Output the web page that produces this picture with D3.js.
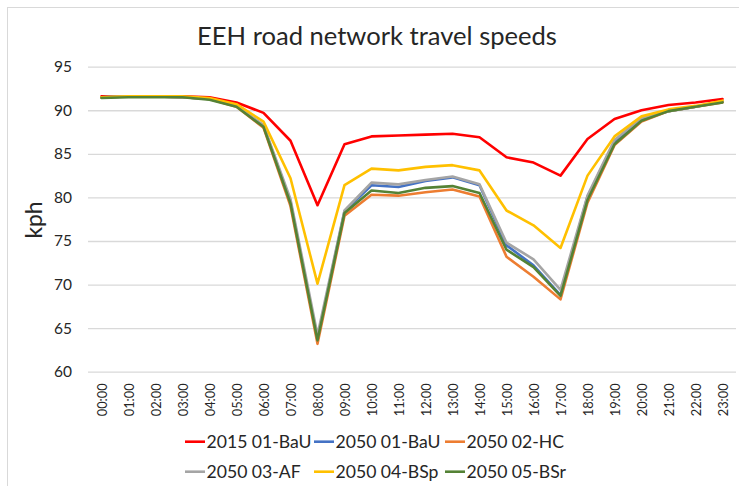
<!DOCTYPE html>
<html>
<head>
<meta charset="utf-8">
<script src="https://cdn.jsdelivr.net/npm/d3@7"></script>
<style>
  html, body { margin: 0; padding: 0; background: #fff; }
  svg { display: block; }
  text { font-family: Lato, "Open Sans", "Liberation Sans", sans-serif; fill: #262626; }
</style>
</head>
<body>
<svg id="chart" width="739" height="486"></svg>
<script>
// ---- data ----
const hours = ["00:00","01:00","02:00","03:00","04:00","05:00","06:00","07:00","08:00","09:00","10:00","11:00",
               "12:00","13:00","14:00","15:00","16:00","17:00","18:00","19:00","20:00","21:00","22:00","23:00"];
const yTicks = [60, 65, 70, 75, 80, 85, 90, 95];
const seriesNames = ["2015 01-BaU", "2050 01-BaU", "2050 02-HC", "2050 03-AF", "2050 04-BSp", "2050 05-BSr"];
const s2015BaU = [91.6, 91.6, 91.6, 91.6, 91.5, 90.9, 89.7, 86.5, 79.1, 86.1, 87.0, 87.1, 87.2, 87.3, 86.9, 84.6, 84.0, 82.5, 86.7, 89.0, 90.0, 90.6, 90.9, 91.3];
const s2050BaU = [91.5, 91.6, 91.6, 91.5, 91.3, 90.5, 88.2, 79.5, 63.8, 78.4, 81.4, 81.2, 81.9, 82.3, 81.4, 74.5, 72.2, 68.8, 80.1, 86.4, 89.0, 89.9, 90.4, 91.0];
const s2050HC  = [91.5, 91.6, 91.6, 91.5, 91.3, 90.4, 88.0, 79.0, 63.2, 77.9, 80.3, 80.2, 80.6, 80.9, 80.1, 73.2, 70.9, 68.3, 79.4, 86.0, 88.7, 89.9, 90.4, 90.9];
const s2050AF  = [91.5, 91.6, 91.6, 91.5, 91.3, 90.5, 88.3, 79.8, 64.2, 78.5, 81.7, 81.5, 82.0, 82.4, 81.5, 74.8, 72.9, 69.4, 80.2, 86.6, 89.1, 89.9, 90.4, 91.0];
const s2050BSp = [91.5, 91.6, 91.6, 91.6, 91.4, 90.7, 88.7, 82.2, 70.1, 81.4, 83.3, 83.1, 83.5, 83.7, 83.1, 78.5, 76.8, 74.2, 82.5, 87.0, 89.3, 90.1, 90.5, 91.1];
const s2050BSr = [91.4, 91.5, 91.5, 91.5, 91.2, 90.4, 88.1, 79.3, 63.6, 78.2, 80.8, 80.5, 81.1, 81.3, 80.5, 74.0, 72.0, 68.7, 79.7, 86.1, 88.8, 89.9, 90.4, 90.9];
const seriesValues = [s2015BaU, s2050BaU, s2050HC, s2050AF, s2050BSp, s2050BSr];
const colors = ["#FF0000", "#4472C4", "#ED7D31", "#A5A5A5", "#FFC000", "#548235"];

// ---- layout ----
const svg = d3.select("#chart");
const plot = { left: 88, right: 736, top: 66.7, bottom: 371.7 };

// fit font size so that text has target width
function fit(sel, target) {
  const w = sel.node().getComputedTextLength();
  const fs = parseFloat(sel.style("font-size"));
  sel.style("font-size", (fs * target / w) + "px");
  return fs * target / w;
}

// chart border
svg.append("rect").attr("x", 7.5).attr("y", 7.5).attr("width", 760).attr("height", 500)
  .attr("fill", "none").attr("stroke", "#D9D9D9").attr("stroke-width", 1);

const x = d3.scalePoint().domain(hours).range([plot.left, plot.right]).padding(0.5);
const y = d3.scaleLinear().domain([60, 95]).range([plot.bottom, plot.top]);

// y axis with gridlines
const yAxis = svg.append("g").attr("transform", `translate(${plot.left},0)`)
  .call(d3.axisLeft(y).tickValues(yTicks).tickSizeInner(-(plot.right - plot.left)).tickSizeOuter(0).tickPadding(16));
yAxis.select(".domain").remove();
yAxis.selectAll(".tick line").attr("stroke", "#D9D9D9").attr("stroke-width", 1.3);
yAxis.selectAll(".tick text").style("font-size", "16px").attr("fill", "#262626");
const yfs = fit(yAxis.select(".tick text"), 18);
yAxis.selectAll(".tick text").style("font-size", yfs + "px");

// x axis
const xAxis = svg.append("g").attr("transform", `translate(0,${plot.bottom})`)
  .call(d3.axisBottom(x).tickSize(0));
xAxis.select(".domain").remove();
xAxis.selectAll(".tick text")
  .attr("transform", "rotate(-90)")
  .attr("x", -11.6).attr("y", 0).attr("dy", "0.36em")
  .attr("text-anchor", "end")
  .style("font-size", "14px").attr("fill", "#262626");
const xfs = fit(xAxis.select(".tick text"), 33);
xAxis.selectAll(".tick text").style("font-size", xfs + "px");

// y axis title
const kph = svg.append("text").text("kph")
  .attr("transform", "translate(34,220) rotate(-90)")
  .attr("text-anchor", "middle").attr("dy", "0.35em")
  .style("font-size", "19px");
fit(kph, 37);

// title
const title = svg.append("text").text("EEH road network travel speeds")
  .attr("x", 377).attr("y", 45).attr("text-anchor", "middle")
  .style("font-size", "22px");
fit(title, 360);

// lines
const line = d3.line().x((d, i) => x(hours[i])).y(d => y(d));
svg.append("g").selectAll("path").data(seriesValues).join("path")
  .attr("d", d => line(d))
  .attr("fill", "none")
  .attr("stroke", (d, i) => colors[i])
  .attr("stroke-width", 2.6)
  .attr("stroke-linejoin", "round")
  .attr("stroke-linecap", "round");

// legend
const legendCols = [185, 314, 445];
const legendRows = [441.7, 471.7];
const legend = svg.append("g");
let lfs = null;
seriesNames.forEach((name, i) => {
  const lx = legendCols[i % 3], ly = legendRows[Math.floor(i / 3)];
  legend.append("line").attr("x1", lx).attr("x2", lx + 20).attr("y1", ly).attr("y2", ly)
    .attr("stroke", colors[i]).attr("stroke-width", 2.6);
  const t = legend.append("text").text(name)
    .attr("x", lx + 21.5).attr("y", ly).attr("dy", "0.35em")
    .style("font-size", "18px");
  if (i === 0) lfs = fit(t, 105);
  else t.style("font-size", lfs + "px");
});
</script>
</body>
</html>
